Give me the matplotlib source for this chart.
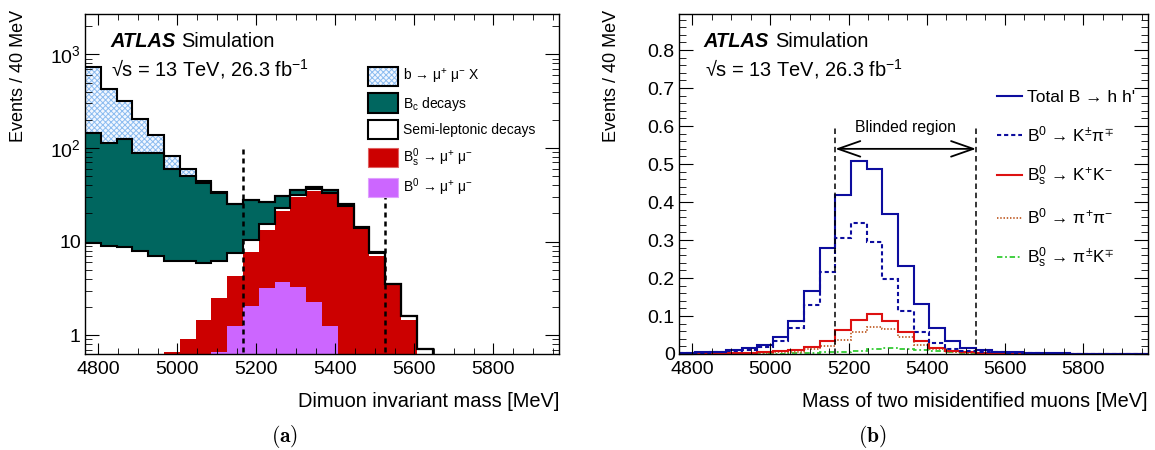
import numpy as np
import matplotlib
matplotlib.use('Agg')
import matplotlib.pyplot as plt
from matplotlib.patches import Patch
from matplotlib.lines import Line2D
from matplotlib.legend_handler import HandlerTuple
from matplotlib.ticker import FixedLocator, LogLocator, MultipleLocator, NullFormatter, FixedFormatter

plt.rcParams['font.family'] = ['Liberation Sans', 'DejaVu Sans']
plt.rcParams['mathtext.fontset'] = 'custom'
plt.rcParams['mathtext.rm'] = 'Liberation Sans'
plt.rcParams['mathtext.it'] = 'Liberation Sans:italic'
plt.rcParams['mathtext.bf'] = 'Liberation Sans:bold'
plt.rcParams['hatch.linewidth'] = 0.7

# 30 bins of 40 MeV, 4766 - 5966 MeV
edges = np.arange(4766, 5967, 40)
blind_lo, blind_hi = 5166, 5526

# (a) dimuon invariant mass, stacked components (events / 40 MeV)
b0_mumu = [0, 0, 0, 0, 0, 0, 0, 0, 0.66, 1.25, 2.06, 3.16, 3.66, 3.29, 2.27, 1.25,
           0, 0, 0, 0, 0, 0, 0, 0, 0, 0, 0, 0, 0, 0]
bs_mumu = [0, 0, 0, 0, 0, 0.66, 0.92, 1.45, 1.81, 3.06, 5.72, 10.1, 17.4, 27.0, 32.6, 31.0,
           23.4, 13.5, 7.1, 3.4, 1.45, 0, 0, 0, 0, 0, 0, 0, 0, 0]
semilep = [9.7, 9.0, 8.8, 8.0, 7.1, 5.6, 5.3, 4.4, 3.8, 3.2, 2.6, 2.0, 1.8, 1.5, 1.2, 1.0,
           0.8, 0.6, 0.4, 0.1, 0.15, 0.72, 0, 0, 0, 0, 0, 0, 0, 0]
bc_decays = [136, 105, 115, 80, 81, 53, 44, 36, 27, 18, 17.4, 11.4, 7.8, 3.8, 1.9, 2.4,
             0.8, 0.3, 0.28, 0.05, 0, 0, 0, 0, 0, 0, 0, 0, 0, 0]
b_mumu_x = [584, 310, 196, 115, 49, 23, 9.5, 2.1, 0.5, 0, 0, 0, 0, 0, 0, 0,
            0, 0, 0, 0, 0, 0, 0, 0, 0, 0, 0, 0, 0, 0]

# (b) mass of two misidentified muons (events / 40 MeV)
total_hh = [0.003, 0.004, 0.006, 0.011, 0.015, 0.024, 0.046, 0.086, 0.165, 0.280, 0.418,
            0.507, 0.487, 0.368, 0.232, 0.131, 0.068, 0.033, 0.015, 0.011, 0.006, 0.004,
            0.003, 0.002, 0.002, 0.001, 0.001, 0.001, 0.001, 0.001]
b0_kpi = [0.002, 0.003, 0.004, 0.008, 0.011, 0.019, 0.035, 0.068, 0.128, 0.215, 0.306,
          0.344, 0.296, 0.198, 0.112, 0.059, 0.030, 0.014, 0.009, 0.006, 0.004, 0.003,
          0.002, 0.001, 0.001, 0.001, 0.001, 0.001, 0.001, 0.001]
bs_kk = [0.001, 0.001, 0.001, 0.002, 0.003, 0.004, 0.007, 0.010, 0.019, 0.035, 0.064,
         0.090, 0.104, 0.088, 0.059, 0.033, 0.016, 0.009, 0.005, 0.003, 0.002, 0.001,
         0.001, 0.001, 0.001, 0.001, 0.001, 0.001, 0.001, 0.001]
b0_pipi = [0.001, 0.001, 0.001, 0.001, 0.001, 0.002, 0.004, 0.006, 0.012, 0.021, 0.037,
           0.058, 0.071, 0.066, 0.044, 0.025, 0.012, 0.006, 0.003, 0.002, 0.001, 0.001,
           0.001, 0.001, 0.001, 0.001, 0.001, 0.001, 0.001, 0.001]
bs_pik = [0, 0, 0, 0.001, 0.001, 0.001, 0.001, 0.002, 0.003, 0.004, 0.006, 0.009, 0.012,
          0.015, 0.014, 0.011, 0.008, 0.005, 0.003, 0.002, 0.001, 0.001, 0.001, 0, 0, 0,
          0, 0, 0, 0]

c_b0 = '#cc66ff'
c_bs = '#cc0000'
c_bc = '#00665f'
c_hatch = '#8cbcf0'

fig = plt.figure(figsize=(11.55, 4.5), dpi=100)
ax1 = fig.add_axes([85 / 1155, 96 / 450, 474 / 1155, 340 / 450])
ax2 = fig.add_axes([679 / 1155, 96 / 450, 469 / 1155, 340 / 450])

# ---- panel (a)
ax1.set_yscale('log')
floor = np.full(len(b0_mumu), 1e-3)
s1 = np.array(b0_mumu)
s2 = s1 + np.array(bs_mumu)
s3 = s2 + np.array(semilep)
s4 = s3 + np.array(bc_decays)
s5 = s4 + np.array(b_mumu_x)
ax1.stairs(np.maximum(s1, 1e-3), edges, baseline=floor, fill=True, color=c_b0, lw=0)
ax1.stairs(np.maximum(s2, 1e-3), edges, baseline=np.maximum(s1, 1e-3), fill=True, color=c_bs, lw=0)
ax1.stairs(np.maximum(s3, 1e-3), edges, baseline=np.maximum(s2, 1e-3), fill=True, color='white', lw=0)
ax1.stairs(np.maximum(s4, 1e-3), edges, baseline=np.maximum(s3, 1e-3), fill=True, color=c_bc, lw=0)
ax1.stairs(np.maximum(s5, 1e-3), edges, baseline=np.maximum(s4, 1e-3), fill=True,
           facecolor='#f2f7ff', edgecolor=c_hatch, hatch='xxxxxx', lw=0)
for s in (s3, s4, s5):
    ax1.stairs(np.maximum(s, 1e-3), edges, baseline=None, color='k', lw=1.5)

ax1.vlines([blind_lo, blind_hi], 1e-3, 100, colors='k', linestyles=(0, (2, 1.6)), lw=1.8, zorder=4)

ax1.set_xlim(4766, 5966)
ax1.set_ylim(0.63, 2700)
ax1.yaxis.set_major_locator(FixedLocator([1, 10, 100, 1000]))
ax1.yaxis.set_major_formatter(FixedFormatter(['1', '10', '$\\mathregular{10^{2}}$', '$\\mathregular{10^{3}}$']))
ax1.yaxis.set_minor_locator(LogLocator(base=10, subs=np.arange(2, 10)))
ax1.yaxis.set_minor_formatter(NullFormatter())

hatch_box = (Patch(facecolor='#f2f7ff', edgecolor=c_hatch, hatch='xxxxxx', lw=0),
             Patch(facecolor='none', edgecolor='k', lw=1.5))
leg1 = ax1.legend(
    [hatch_box,
     Patch(facecolor=c_bc, edgecolor='k', lw=1.5),
     Patch(facecolor='white', edgecolor='k', lw=1.5),
     Patch(facecolor=c_bs, edgecolor='#e06060', lw=0.8),
     Patch(facecolor=c_b0, edgecolor='#e0a0ff', lw=0.8)],
    ['b → μ$\\mathregular{^{+}}$ μ$\\mathregular{^{-}}$ X',
     'B$\\mathregular{_{c}}$ decays',
     'Semi-leptonic decays',
     'B$\\mathregular{^{0}_{s}}$ → μ$\\mathregular{^{+}}$ μ$\\mathregular{^{-}}$',
     'B$\\mathregular{^{0}}$ → μ$\\mathregular{^{+}}$ μ$\\mathregular{^{-}}$'],
    handler_map={tuple: HandlerTuple(ndivide=1, pad=0)},
    loc='upper left', bbox_to_anchor=(0.597, 0.845), fontsize=10,
    handlelength=2.15, handleheight=1.75, labelspacing=0.52, handletextpad=0.4,
    borderpad=0.0, borderaxespad=0.0, frameon=True, fancybox=False,
    edgecolor='none', facecolor='white', framealpha=1.0)
leg1.set_zorder(6)

ax1.set_xlabel('Dimuon invariant mass [MeV]', fontsize=14.4, loc='right')
ax1.set_ylabel('Events / 40 MeV', fontsize=13, loc='top')

# ---- panel (b)
ax2.stairs(bs_pik, edges, color='#33cc33', lw=1.3, linestyle=(0, (3, 1.5, 1, 1.5)), baseline=None)
ax2.stairs(b0_pipi, edges, color='#c0602b', lw=1.3, linestyle=(0, (0.8, 1.0)), baseline=None)
ax2.stairs(bs_kk, edges, color='#dd1111', lw=1.5, baseline=None)
ax2.stairs(b0_kpi, edges, color='#0d0d9e', lw=1.5, linestyle=(0, (2, 1.4)), baseline=None)
ax2.stairs(total_hh, edges, color='#0d0d9e', lw=1.5, baseline=None)

ax2.vlines([blind_lo, blind_hi], 0, 0.6, colors='k', linestyles=(0, (3.6, 2.4)), lw=1.1, zorder=4)
ax2.annotate('', xy=(blind_lo, 0.54), xytext=(blind_hi, 0.54),
             arrowprops=dict(arrowstyle='<->,head_length=0.8,head_width=0.28', color='k', lw=1.3,
                             shrinkA=0, shrinkB=0, mutation_scale=20))
ax2.text((blind_lo + blind_hi) / 2, 0.597, 'Blinded region', fontsize=11.3, ha='center', va='center')

ax2.set_xlim(4766, 5966)
ax2.set_ylim(0, 0.895)
ax2.yaxis.set_major_locator(FixedLocator([0, 0.1, 0.2, 0.3, 0.4, 0.5, 0.6, 0.7, 0.8]))
ax2.yaxis.set_minor_locator(MultipleLocator(0.02))
ax2.yaxis.set_major_formatter(FixedFormatter(['0', '0.1', '0.2', '0.3', '0.4', '0.5', '0.6', '0.7', '0.8']))

leg2 = ax2.legend(
    [Line2D([], [], color='#0d0d9e', lw=1.5),
     Line2D([], [], color='#0d0d9e', lw=1.5, linestyle=(0, (2, 1.4))),
     Line2D([], [], color='#dd1111', lw=1.5),
     Line2D([], [], color='#c0602b', lw=1.3, linestyle=(0, (0.8, 1.0))),
     Line2D([], [], color='#33cc33', lw=1.3, linestyle=(0, (3, 1.5, 1, 1.5)))],
    ["Total B → h h'",
     'B$\\mathregular{^{0}}$ → K$\\mathregular{^{\\pm}}$π$\\mathregular{^{\\mp}}$',
     'B$\\mathregular{^{0}_{s}}$ → K$\\mathregular{^{+}}$K$\\mathregular{^{-}}$',
     'B$\\mathregular{^{0}}$ → π$\\mathregular{^{+}}$π$\\mathregular{^{-}}$',
     'B$\\mathregular{^{0}_{s}}$ → π$\\mathregular{^{\\pm}}$K$\\mathregular{^{\\mp}}$'],
    loc='upper left', bbox_to_anchor=(0.677, 0.776), fontsize=12.5,
    handlelength=1.45, labelspacing=1.1, handletextpad=0.3,
    borderpad=0.0, borderaxespad=0.0, frameon=False)

ax2.set_xlabel('Mass of two misidentified muons [MeV]', fontsize=14.3, loc='right')
ax2.set_ylabel('Events / 40 MeV', fontsize=13, loc='top')

for ax in (ax1, ax2):
    ax.xaxis.set_major_locator(MultipleLocator(200))
    ax.xaxis.set_minor_locator(MultipleLocator(50))
    ax.tick_params(which='both', direction='in', top=True, right=True, labelsize=14)
    ax.tick_params(axis='x', which='major', length=8, pad=5)
    ax.tick_params(axis='x', which='minor', length=4)
    ax.tick_params(axis='y', which='major', length=10, pad=3)
    ax.tick_params(axis='y', which='minor', length=5)
    for sp in ax.spines.values():
        sp.set_linewidth(1.0)
    ax.xaxis.set_label_coords(1.0, -0.141)
    ax.xaxis.label.set_va('center')
    ax.yaxis.label.set_va('center')
    t = ax.text(0.053, 0.918, 'ATLAS', transform=ax.transAxes, fontsize=14.4,
                fontweight='bold', style='italic', va='center', ha='left')
    ax.annotate('Simulation', xy=(1, 0.5), xycoords=t, xytext=(4, 0), textcoords='offset points',
                fontsize=14.4, va='center', ha='left')
    ax.text(0.055, 0.838, '√s = 13 TeV, 26.3 fb$\\mathregular{^{-1}}$',
            transform=ax.transAxes, fontsize=14.4, va='center', ha='left')

ax1.yaxis.set_label_coords(-0.141, 1.012)
ax2.yaxis.set_label_coords(-0.143, 1.012)

fig.text(285 / 1155, 1 - 437 / 450, '$\\mathbf{(a)}$', fontsize=15.5, ha='center', va='center',
         math_fontfamily='cm')
fig.text(872 / 1155, 1 - 437 / 450, '$\\mathbf{(b)}$', fontsize=15.5, ha='center', va='center',
         math_fontfamily='cm')

fig.savefig('out.png', dpi=100)
